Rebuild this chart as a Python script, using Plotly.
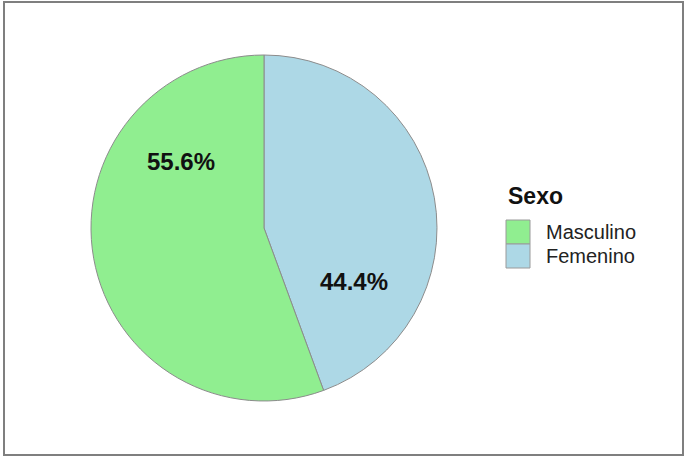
import plotly.graph_objects as go

# Distribution by sex
categories = ["Masculino", "Femenino"]
values = [55.6, 44.4]
colors = ["#90EE90", "#ADD8E6"]
legend_title = "Sexo"

W, H = 687, 457
FONT = "Liberation Sans, Arial, sans-serif"

total = sum(values)
pct_labels = [f"{v / total * 100:.1f}%" for v in values]

# Slices are laid out clockwise from 12 o'clock, last category first
fig = go.Figure(
    go.Pie(
        labels=categories[::-1],
        values=values[::-1],
        sort=False,
        direction="clockwise",
        rotation=0,
        marker=dict(colors=colors[::-1], line=dict(color="#8c8c8c", width=1)),
        textinfo="none",
        hoverinfo="label+percent",
        showlegend=False,
        domain=dict(x=[91 / W, 437 / W], y=[1 - 401 / H, 1 - 55 / H]),
    )
)

# Percentage labels placed over each slice
label_pos = [(181, 161), (354, 281)]
for txt, (px, py) in zip(pct_labels, label_pos):
    fig.add_annotation(
        x=px / W, y=1 - py / H, xref="paper", yref="paper",
        xanchor="center", yanchor="middle",
        text=f"<b>{txt}</b>", showarrow=False,
        font=dict(family=FONT, size=24, color="#111111"),
    )

# Legend: title, colour keys and labels
fig.add_annotation(
    x=506 / W, y=1 - 196 / H, xref="paper", yref="paper",
    xanchor="left", yanchor="middle", showarrow=False,
    text=f"<b>{legend_title}</b>",
    font=dict(family=FONT, size=23, color="#111111"),
)
key_top, key_size = 220, 24
for i, (cat, col) in enumerate(zip(categories, colors)):
    y0 = key_top + i * key_size
    fig.add_shape(
        type="rect", xref="paper", yref="paper",
        x0=506 / W, x1=(506 + key_size) / W,
        y0=1 - (y0 + key_size) / H, y1=1 - y0 / H,
        fillcolor=col, line=dict(color="#9a9a9a", width=1),
    )
    fig.add_annotation(
        x=544 / W, y=1 - (y0 + key_size / 2) / H, xref="paper", yref="paper",
        xanchor="left", yanchor="middle", showarrow=False,
        text=cat, font=dict(family=FONT, size=20, color="#222222"),
    )

# Outer frame
fig.add_shape(
    type="rect", xref="paper", yref="paper",
    x0=4 / W, x1=683 / W, y0=1 - 455 / H, y1=1 - 2 / H,
    line=dict(color="#7f7f7f", width=2), fillcolor="rgba(0,0,0,0)",
)

fig.update_layout(
    width=W, height=H,
    margin=dict(l=0, r=0, t=0, b=0),
    paper_bgcolor="white",
    plot_bgcolor="white",
    font=dict(family=FONT, color="#333333"),
    showlegend=False,
)

fig.write_html("out.html")
